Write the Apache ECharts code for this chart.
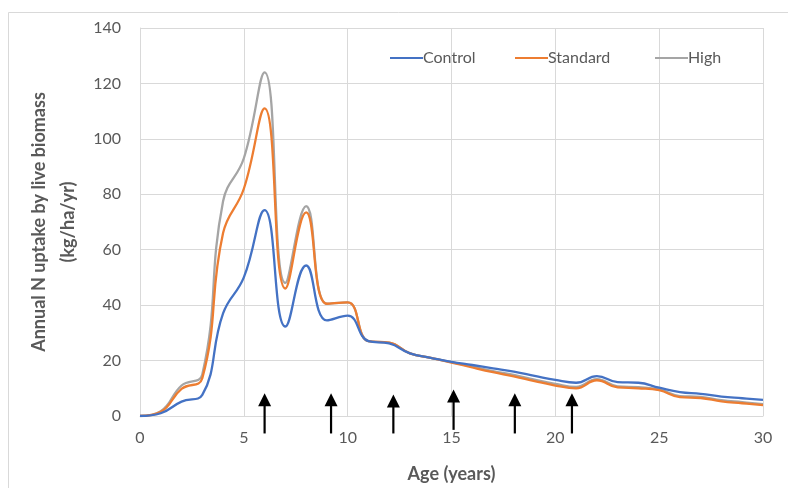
<!DOCTYPE html>
<html>
<head>
<meta charset="utf-8">
<script src="https://cdn.jsdelivr.net/npm/echarts@6/dist/echarts.min.js"></script>
<style>
html, body { margin: 0; padding: 0; background: #fff; }
#chart { width: 788px; height: 488px; }
</style>
</head>
<body>
<div id="chart"></div>
<script>
// age in years, one point per year
const ages = [0, 1, 2, 3, 4, 5, 6, 7, 8, 9, 10, 11, 12, 13, 14, 15, 16, 17, 18, 19, 20, 21, 22, 23, 24, 25, 26, 27, 28, 29, 30]
const control = [0, 1, 5.2, 7.6, 37, 50, 74.3, 32.3, 54.3, 34.5, 36.2, 27, 26.2, 22.6, 21, 19.5, 18.4, 17.2, 16, 14.5, 13, 12, 14.4, 12.2, 12, 10.2, 8.6, 8, 7, 6.4, 5.8]
const standard = [0, 1.5, 9.8, 13.6, 66, 82, 111, 46, 73.5, 40.5, 41, 27, 26.5, 22.6, 21, 19.3, 17.5, 15.8, 14.3, 12.6, 11, 10, 12.9, 10.3, 10, 9.3, 6.8, 6.5, 5.3, 4.6, 3.9]
const high = [0, 1.7, 11, 15, 77.5, 93, 124, 48, 75.7, 40.5, 41, 27, 26.5, 22.6, 21, 19.4, 17.8, 16.2, 14.8, 13.1, 11.6, 10.5, 13.3, 10.7, 10.4, 9.6, 7.2, 6.9, 5.7, 5, 4.3]
// arrows under the curves: age, tip and tail heights in kg/ha/yr
const arrowAges = [6, 9.2, 12.2, 15.1, 18.05, 20.8]
const arrowTips = [8.2, 8.2, 7.8, 9.6, 8.2, 8.2]
const arrowTails = [-6.3, -6.3, -6.3, -5, -6.3, -6.3]

const seriesNames = ['Control', 'Standard', 'High']
const colorList = ['#4472C4', '#ED7D31', '#A5A5A5']
const textColor = '#595959'
const fontFamily = 'Lato, "Open Sans", sans-serif'

const chart = echarts.init(document.getElementById('chart'))

function pairs(values) {
  return ages.map((a, i) => [a, values[i]])
}

function legendFor(name, left) {
  return {
    data: [name],
    left: left,
    top: 45,
    icon: 'rect',
    itemWidth: 33,
    itemHeight: 2,
    itemGap: 0,
    textStyle: { color: textColor, fontSize: 16, fontFamily: fontFamily, padding: [0, 0, 0, -5] },
  }
}

const options = {
  backgroundColor: '#fff',
  animation: false,
  color: colorList,
  graphic: [
    {
      type: 'rect',
      shape: { x: 8.5, y: 12.5, width: 800, height: 500 },
      style: { fill: 'none', stroke: '#D9D9D9', lineWidth: 1 },
      silent: true,
    },
  ],
  grid: {
    left: 140,
    right: 25,
    top: 28,
    bottom: 70,
  },
  legend: [
    legendFor('Control', 385),
    legendFor('Standard', 510),
    legendFor('High', 650),
  ],
  xAxis: {
    type: 'value',
    min: 0,
    max: 30,
    interval: 5,
    name: 'Age (years)',
    nameLocation: 'middle',
    nameGap: 49,
    nameTextStyle: { color: textColor, fontSize: 18, fontWeight: 'bold', fontFamily: fontFamily },
    axisLine: { show: true, lineStyle: { color: '#D9D9D9', width: 1 } },
    axisTick: { show: false },
    axisLabel: { color: textColor, fontSize: 16, fontFamily: fontFamily, margin: 14 },
    splitLine: { show: true, lineStyle: { color: '#D9D9D9', width: 1 } },
  },
  yAxis: {
    type: 'value',
    min: 0,
    max: 140,
    interval: 20,
    name: 'Annual N uptake by live biomass\n(kg/ha/yr)',
    nameLocation: 'middle',
    nameGap: 51,
    nameTextStyle: { color: textColor, fontSize: 18, fontWeight: 'bold', fontFamily: fontFamily, lineHeight: 29 },
    axisLine: { show: true, lineStyle: { color: '#D9D9D9', width: 1 } },
    axisTick: { show: false },
    axisLabel: { color: textColor, fontSize: 16, fontFamily: fontFamily, margin: 19 },
    splitLine: { show: true, lineStyle: { color: '#D9D9D9', width: 1 } },
  },
  series: [
    ...[control, standard, high].map((vals, i) => ({
      name: seriesNames[i],
      type: 'line',
      data: pairs(vals),
      smooth: 0.45,
      showSymbol: false,
      symbol: 'none',
      lineStyle: { width: 2.3, color: colorList[i] },
      itemStyle: { color: colorList[i] },
      z: 3 - i,
    })).reverse(),
    {
      type: 'custom',
      name: 'arrows',
      clip: false,
      silent: true,
      z: 10,
      data: arrowAges.map((a, i) => [a, arrowTips[i], arrowTails[i]]),
      renderItem(params, api) {
        const tip = api.coord([api.value(0), api.value(1)])
        const tail = api.coord([api.value(0), api.value(2)])
        const headH = 13
        const headW = 6.5
        return {
          type: 'group',
          children: [
            {
              type: 'line',
              shape: { x1: tail[0], y1: tail[1], x2: tip[0], y2: tip[1] + headH - 1 },
              style: { stroke: '#000', lineWidth: 2.2 },
            },
            {
              type: 'polygon',
              shape: {
                points: [
                  [tip[0], tip[1]],
                  [tip[0] - headW, tip[1] + headH],
                  [tip[0] + headW, tip[1] + headH],
                ],
              },
              style: { fill: '#000' },
            },
          ],
        }
      },
    },
  ],
}

chart.setOption(options)
</script>
</body>
</html>
